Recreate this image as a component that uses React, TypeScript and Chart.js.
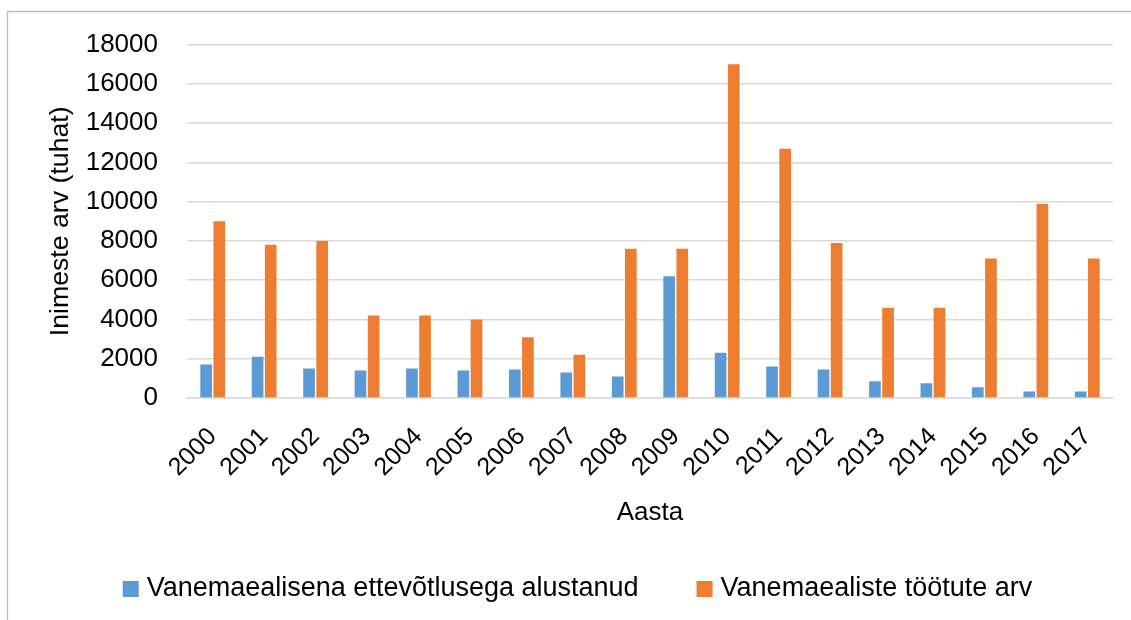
import React, { useEffect, useRef } from "react";
import { Chart, registerables } from "chart.js";

Chart.register(...registerables);

const years = ["2000", "2001", "2002", "2003", "2004", "2005", "2006", "2007", "2008", "2009", "2010", "2011", "2012", "2013", "2014", "2015", "2016", "2017"];
const startedBusiness = [1700, 2100, 1500, 1400, 1500, 1400, 1450, 1300, 1100, 6200, 2300, 1600, 1450, 850, 750, 550, 330, 330];
const unemployed = [9000, 7800, 8000, 4200, 4200, 4000, 3100, 2200, 7600, 7600, 17000, 12700, 7900, 4600, 4600, 7100, 9900, 7100];
const seriesLabels = ["Vanemaealisena ettevõtlusega alustanud", "Vanemaealiste töötute arv"];
const yTitle = "Inimeste arv (tuhat)";
const xTitle = "Aasta";
const yMin = 0;
const yMax = 18000;
const yStep = 2000;

const FONT = "'Liberation Sans', Arial, sans-serif";

const frame = {
  id: "frame",
  beforeDraw(chart: any) {
    const ctx = chart.ctx;
    ctx.save();
    ctx.fillStyle = "#ffffff";
    ctx.fillRect(0, 0, chart.width, chart.height);
    ctx.strokeStyle = "#bfbfbf";
    ctx.lineWidth = 1.3;
    ctx.beginPath();
    ctx.moveTo(7.5, chart.height + 5);
    ctx.lineTo(7.5, 11.5);
    ctx.lineTo(chart.width + 5, 11.5);
    ctx.stroke();
    ctx.restore();
  },
};

export default function App() {
  const ref = useRef<HTMLCanvasElement | null>(null);

  useEffect(() => {
    if (!ref.current) return;
    const chart = new Chart(ref.current, {
      type: "bar",
      data: {
        labels: years,
        datasets: [
          {
            label: seriesLabels[0],
            data: startedBusiness,
            backgroundColor: "#5b9bd5",
            categoryPercentage: 0.51,
            barPercentage: 0.89,
          },
          {
            label: seriesLabels[1],
            data: unemployed,
            backgroundColor: "#ed7d31",
            categoryPercentage: 0.51,
            barPercentage: 0.89,
          },
        ],
      },
      options: {
        animation: false,
        responsive: false,
        maintainAspectRatio: false,
        layout: { padding: { left: 47.5, top: 43, right: 18, bottom: 7.5 } },
        plugins: {
          legend: {
            position: "bottom",
            labels: {
              usePointStyle: true,
              pointStyle: "rect",
              boxWidth: 5,
              boxHeight: 16,
              padding: 63.5,
              color: "#000000",
              font: { family: FONT, size: 27 },
            },
          },
          tooltip: { enabled: false },
        },
        scales: {
          x: {
            grid: { display: false, drawTicks: false },
            border: { display: true, color: "#d9d9d9", width: 1.5 },
            ticks: {
              autoSkip: false,
              minRotation: 45,
              maxRotation: 45,
              padding: 24,
              color: "#000000",
              font: { family: FONT, size: 25 },
            },
            title: {
              display: true,
              text: xTitle,
              color: "#000000",
              font: { family: FONT, size: 26 },
              padding: { top: 0, bottom: -16 },
            },
            afterFit: (scale: any) => {
              scale.height = 114;
              scale.paddingLeft = 0;
              scale.paddingRight = 0;
            },
          },
          y: {
            min: yMin,
            max: yMax,
            grid: { color: "#d9d9d9", lineWidth: 1.5, drawTicks: false },
            border: { display: false },
            ticks: {
              stepSize: yStep,
              padding: 29,
              color: "#000000",
              font: { family: FONT, size: 26 },
              callback: (v: any) => String(v),
            },
            title: {
              display: true,
              text: yTitle,
              color: "#000000",
              font: { family: FONT, size: 26.7 },
              padding: { top: -2.5, bottom: 0 },
            },
            afterFit: (scale: any) => {
              scale.width = 139.5;
            },
          },
        },
      },
      plugins: [frame],
    });
    return () => chart.destroy();
  }, []);

  return (
    <div style={{ position: "fixed", left: 0, top: 0, width: 1131, height: 620, overflow: "hidden", background: "#fff" }}>
      <canvas ref={ref} width={1131} height={620} style={{ width: 1131, height: 620, display: "block" }} />
    </div>
  );
}
